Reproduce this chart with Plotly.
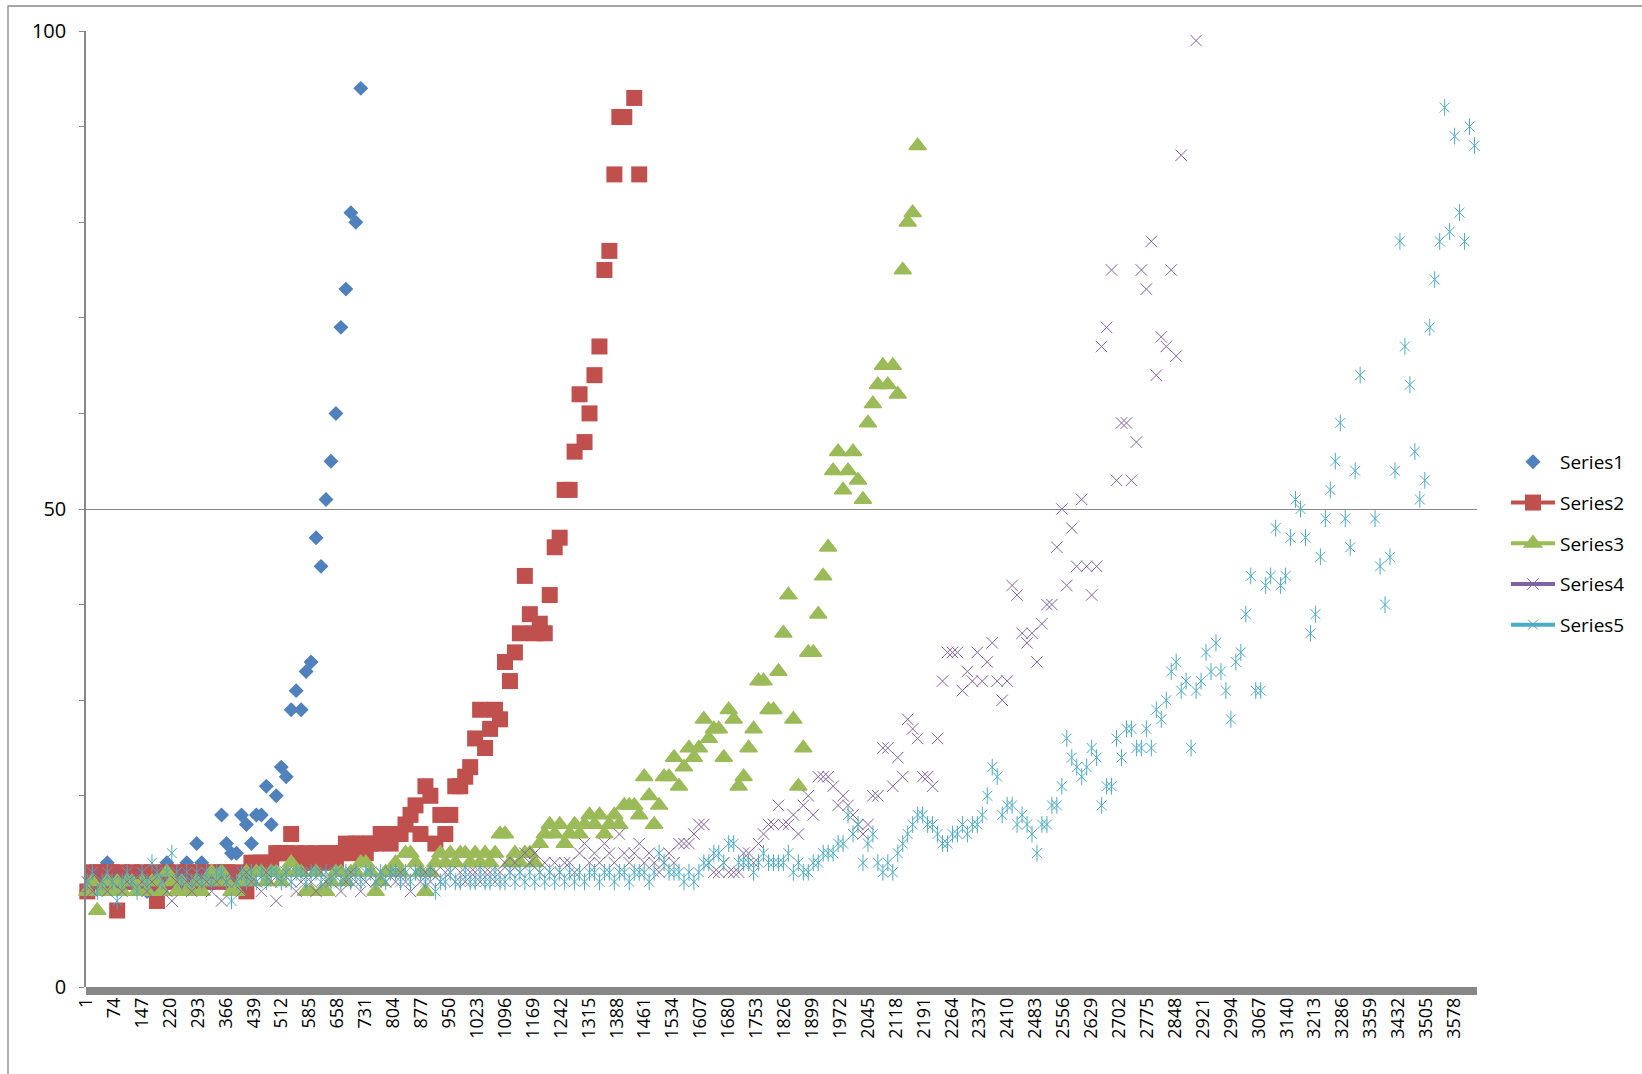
import plotly.graph_objects as go

# Category axis: readings sit on every 13th category, starting at category 4
FIRST_CATEGORY = 4
CATEGORY_STEP = 13
N_CATEGORIES = 3637

x_tick_labels = [1, 74, 147, 220, 293, 366, 439, 512, 585, 658, 731, 804, 877, 950,
                 1023, 1096, 1169, 1242, 1315, 1388, 1461, 1534, 1607, 1680, 1753,
                 1826, 1899, 1972, 2045, 2118, 2191, 2264, 2337, 2410, 2483, 2556,
                 2629, 2702, 2775, 2848, 2921, 2994, 3067, 3140, 3213, 3286, 3359,
                 3432, 3505, 3578]
y_tick_labels = [0, 50, 100]
y_minor_ticks = [10, 20, 30, 40, 60, 70, 80, 90]

series1 = [10, 11, 11, 11, 13, 12, 11, 12, 11, 12,
           11, 11, 10, 12, 10, 11, 13, 12, 11, 11,
           13, 12, 15, 13, 12, 12, 12, 18, 15, 14,
           14, 18, 17, 15, 18, 18, 21, 17, 20, 23,
           22, 29, 31, 29, 33, 34, 47, 44, 51, 55,
           60, 69, 73, 81, 80, 94]

series2 = [10, 12, 12, 11, 12, 12, 8, 12, 11, 12,
           11, 12, 11, 12, 9, 11, 12, 11, 12, 11,
           12, 11, 12, 12, 11, 12, 11, 12, 12, 11,
           12, 11, 10, 13, 13, 13, 13, 13, 14, 14,
           14, 16, 14, 13, 14, 13, 14, 13, 14, 14,
           13, 14, 15, 14, 15, 15, 14, 15, 15, 16,
           16, 15, 16, 16, 17, 18, 19, 16, 21, 20,
           15, 18, 16, 18, 21, 21, 22, 23, 26, 29,
           25, 27, 29, 28, 34, 32, 35, 37, 43, 39,
           37, 38, 37, 41, 46, 47, 52, 52, 56, 62,
           57, 60, 64, 67, 75, 77, 85, 91, 91, None,
           93, 85]

series3 = [10, 11, 8, 10, 11, 10, 11, 10, 11, 11,
           10, 11, 10, 11, 11, 10, 12, 11, 10, 11,
           10, 10, 11, 10, 11, 12, 11, 12, 11, 10,
           10, 11, 12, 11, 12, 12, 11, 12, 12, 11,
           12, 13, 12, 12, 10, 10, 12, 10, 10, 11,
           12, 12, 11, 12, 12, 13, 13, 12, 10, 11,
           12, 12, 13, 12, 14, 14, 13, 12, 10, 12,
           13, 14, 13, 14, 13, 14, 14, 13, 14, 13,
           14, 13, 14, 16, 16, 13, 14, 13, 14, 14,
           13, 15, 16, 17, 16, 17, 15, 16, 17, 16,
           17, 18, 17, 18, 16, 17, 18, 17, 19, 19,
           19, 18, 22, 20, 17, 19, 22, 22, 24, 21,
           23, 25, 24, 25, 28, 26, 27, 27, 24, 29,
           28, 21, 22, 25, 27, 32, 32, 29, 29, 33,
           37, 41, 28, 21, 25, 35, 35, 39, 43, 46,
           54, 56, 52, 54, 56, 53, 51, 59, 61, 63,
           65, 63, 65, 62, 75, 80, 81, 88]

series4 = [11, 10, 12, 11, 10, 11, 12, 10, 11, 11,
           12, 11, 10, 11, 12, 11, 10, 9, 11, 12,
           11, 10, 11, 12, 11, 10, 11, 9, 11, 12,
           11, 10, 12, 11, 11, 10, 12, 11, 9, 11,
           12, 11, 10, 11, 12, 11, 10, 12, 11, 11,
           12, 10, 11, 12, 11, 10, 11, 12, 11, 12,
           11, 12, 11, 12, 11, 10, 12, 11, 12, 11,
           12, 11, 12, 12, 11, 12, 11, 12, 12, 11,
           12, 12, 11, 12, 13, 12, 13, 12, 14, 13,
           14, 12, 13, 12, 13, 12, 13, 13, 12, 14,
           15, 13, 14, 13, 15, 14, 13, 16, 14, 13,
           14, 15, 13, 14, 13, 12, 13, 14, 13, 15,
           15, 15, 16, 17, 17, 13, 12, 12, 13, 12,
           12, 12, 14, 14, 13, 15, 16, 17, 17, 19,
           17, 17, 18, 16, 19, 20, 18, 22, 22, 22,
           21, 19, 20, 19, 18, 17, 16, 17, 20, 20,
           25, 25, 21, 24, 22, 28, 27, 26, 22, 22,
           21, 26, 32, 35, 35, 35, 31, 33, 32, 35,
           32, 34, 36, 32, 30, 32, 42, 41, 37, 36,
           37, 34, 38, 40, 40, 46, 50, 42, 48, 44,
           51, 44, 41, 44, 67, 69, 75, 53, 59, 59,
           53, 57, 75, 73, 78, 64, 68, 67, 75, 66,
           87, None, None, 99]

series5 = [11, 12, 10, 11, 12, 11, 9, 11, 12, 11,
           10, 12, 11, 13, 12, 11, 12, 14, 12, 11,
           12, 11, 12, 11, 12, 11, 12, 12, 11, 9,
           11, 12, 11, 12, 11, 12, 11, 12, 12, 11,
           12, 11, 12, 12, 11, 12, 12, 11, 12, 11,
           12, 11, 12, 11, 12, 11, 12, 12, 11, 12,
           11, 12, 12, 11, 12, 11, 12, 12, 11, 12,
           10, 11, 11, 12, 11, 11, 12, 11, 11, 12,
           11, 11, 12, 11, 11, 12, 11, 12, 11, 12,
           11, 12, 11, 12, 11, 12, 11, 12, 11, 12,
           11, 12, 12, 11, 12, 12, 11, 12, 12, 11,
           12, 12, 12, 11, 12, 14, 13, 12, 12, 12,
           11, 12, 11, 12, 13, 13, 14, 14, 13, 15,
           15, 13, 13, 13, 12, 13, 14, 13, 13, 13,
           13, 14, 12, 13, 12, 12, 13, 13, 14, 14,
           14, 15, 15, 18, 16, 17, 13, 15, 16, 13,
           12, 13, 12, 14, 15, 16, 17, 18, 18, 17,
           17, 16, 15, 15, 16, 16, 17, 16, 17, 17,
           18, 20, 23, 22, 18, 19, 19, 17, 18, 17,
           16, 14, 17, 17, 19, 19, 21, 26, 24, 23,
           22, 23, 25, 24, 19, 21, 21, 26, 24, 27,
           27, 25, 25, 27, 25, 29, 28, 30, 33, 34,
           31, 32, 25, 31, 32, 35, 33, 36, 33, 31,
           28, 34, 35, 39, 43, 31, 31, 42, 43, 48,
           42, 43, 47, 51, 50, 47, 37, 39, 45, 49,
           52, 55, 59, 49, 46, 54, 64, None, None, 49,
           44, 40, 45, 54, 78, 67, 63, 56, 51, 53,
           69, 74, 78, 92, 79, 89, 81, 78, 90, 88]

BLUE, RED, GREEN, PURPLE, CYAN = "#4F81BD", "#C0504D", "#9BBB59", "#8064A2", "#4BACC6"
AXIS_GREY = "#878787"
FONT = "Open Sans"


def isolated_points(values):
    """Each reading is separated by a gap, so the series line never joins points."""
    xs, ys = [], []
    for i, v in enumerate(values):
        if v is None:
            continue
        xs += [FIRST_CATEGORY + CATEGORY_STEP * i, None]
        ys += [v, None]
    return xs, ys


fig = go.Figure()

x1, y1 = isolated_points(series1)
fig.add_trace(go.Scatter(
    x=x1, y=y1, name="Series1", mode="markers", legendgroup="g1",
    marker=dict(symbol="diamond", size=11.5, color=BLUE, line=dict(width=0)),
    cliponaxis=False))

x2, y2 = isolated_points(series2)
fig.add_trace(go.Scatter(
    x=x2, y=y2, name="Series2", mode="lines+markers", legendgroup="g2",
    connectgaps=False, line=dict(color=RED, width=4),
    marker=dict(symbol="square", size=16, color=RED, line=dict(width=0)),
    cliponaxis=False))

x3, y3 = isolated_points(series3)
fig.add_trace(go.Scatter(
    x=x3, y=y3, name="Series3", mode="lines+markers", legendgroup="g3",
    connectgaps=False, line=dict(color=GREEN, width=4),
    marker=dict(symbol="triangle-up", size=15, color=GREEN,
                line=dict(width=1.5, color=GREEN)),
    cliponaxis=False))

x4, y4 = isolated_points(series4)
fig.add_trace(go.Scatter(
    x=x4, y=y4, name="Series4", mode="lines+markers", legendgroup="g4",
    connectgaps=False, line=dict(color=PURPLE, width=4),
    marker=dict(symbol="x-thin", size=11.5, color=PURPLE,
                line=dict(width=1, color=PURPLE)),
    cliponaxis=False))

x5, y5 = isolated_points(series5)
fig.add_trace(go.Scatter(
    x=x5, y=y5, name="Series5", mode="lines+markers", legendgroup="g5",
    connectgaps=False, line=dict(color=CYAN, width=4),
    marker=dict(symbol="x-thin", size=10, color=CYAN,
                line=dict(width=1, color=CYAN)),
    cliponaxis=False))
# vertical stroke of the star marker
fig.add_trace(go.Scatter(
    x=x5, y=y5, name="Series5", mode="markers", legendgroup="g5", showlegend=False,
    marker=dict(symbol="line-ns", size=12, color=CYAN,
                line=dict(width=1, color=CYAN)),
    cliponaxis=False))

plot_left, plot_right, plot_top, plot_bottom = 86, 1477, 31, 987
fig_w, fig_h = 1642, 1074
plot_w = plot_right - plot_left
plot_h = plot_bottom - plot_top

fig.update_layout(
    width=fig_w, height=fig_h,
    margin=dict(l=plot_left, r=fig_w - plot_right, t=plot_top, b=fig_h - plot_bottom, pad=0),
    paper_bgcolor="white", plot_bgcolor="white",
    font=dict(family=FONT, size=18, color="#000000"),
    showlegend=True,
    legend=dict(
        x=(1506 - plot_left) / plot_w, y=(plot_bottom - 443) / plot_h,
        xanchor="left", yanchor="top",
        font=dict(family=FONT, size=19, color="#000000"),
        itemwidth=44, tracegroupgap=13, traceorder="grouped",
        bgcolor="rgba(0,0,0,0)", borderwidth=0,
    ),
    xaxis=dict(
        range=[0.5, N_CATEGORIES + 0.5],
        tickmode="array", tickvals=x_tick_labels,
        ticktext=[str(t) for t in x_tick_labels],
        tickangle=-90, ticks="", showgrid=False, zeroline=False, showline=False,
        tickfont=dict(family=FONT, size=18, color="#000000"),
        ticklabelstandoff=6,
    ),
    yaxis=dict(
        range=[0, 100], tickmode="array", tickvals=y_tick_labels,
        ticks="outside", ticklen=5, tickwidth=1, tickcolor=AXIS_GREY,
        showgrid=True, gridcolor=AXIS_GREY, gridwidth=1,
        zeroline=False, showline=True, linecolor=AXIS_GREY, linewidth=1.5,
        minor=dict(tickvals=y_minor_ticks, ticks="outside", ticklen=5,
                   tickwidth=1, tickcolor=AXIS_GREY, showgrid=False),
        tickfont=dict(family=FONT, size=20, color="#000000"),
        ticklabelstandoff=9,
    ),
    shapes=[
        # dense category tick marks merge into a solid band under the axis
        dict(type="rect", xref="paper", yref="paper", x0=0, x1=1,
             y0=-8 / plot_h, y1=0, fillcolor=AXIS_GREY, line=dict(width=0),
             layer="above"),
        # chart area border
        dict(type="rect", xref="paper", yref="paper",
             x0=(8 - plot_left) / plot_w, x1=1.5,
             y0=-0.5, y1=(plot_bottom - 6) / plot_h,
             line=dict(color="#898989", width=1.3), fillcolor="rgba(0,0,0,0)",
             layer="below"),
    ],
)

fig.write_html("out.html")
